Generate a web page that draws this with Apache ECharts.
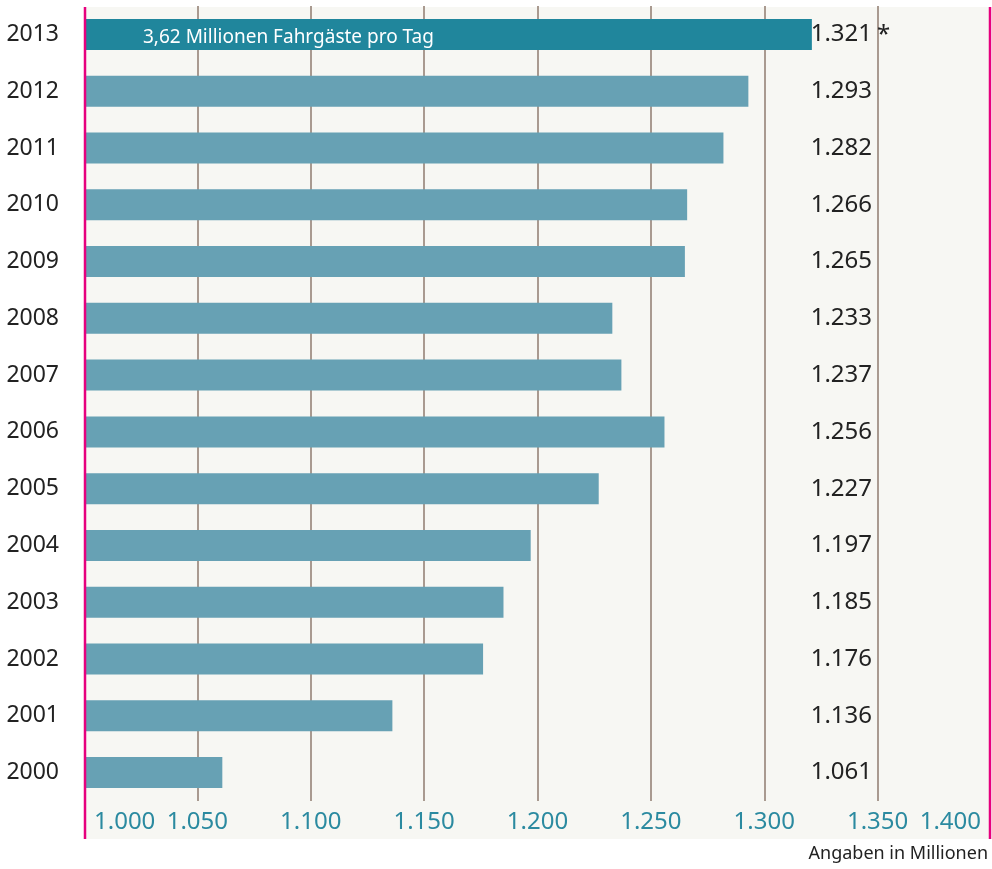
<!DOCTYPE html>
<html>
<head>
<meta charset="utf-8">
<script src="https://cdn.jsdelivr.net/npm/echarts@6/dist/echarts.min.js"></script>
<style>
  html, body { margin: 0; padding: 0; background: #ffffff; }
  #chart { width: 992px; height: 869px; }
</style>
</head>
<body>
<div id="chart"></div>
<script>
// ---- data ----
const years = ['2000', '2001', '2002', '2003', '2004', '2005', '2006', '2007', '2008', '2009', '2010', '2011', '2012', '2013'];
const riders = [1061, 1136, 1176, 1185, 1197, 1227, 1256, 1237, 1233, 1265, 1266, 1282, 1293, 1321];
const xMin = 1000;
const xMax = 1400;
const xStep = 50;
const highlightNote = '3,62 Millionen Fahrgäste pro Tag';
const footnoteMark = '*';
const unitNote = 'Angaben in Millionen';

// ---- helpers ----
const fmt = n => String(n).replace(/\B(?=(\d{3})+(?!\d))/g, '.');
const FONT = '"Noto Sans", "Open Sans", sans-serif';

const chart = echarts.init(document.getElementById('chart'), null, { renderer: 'canvas' });

const lastIdx = riders.length - 1;
const barData = riders.map((v, i) => {
  if (i !== lastIdx) return v;
  return {
    value: v,
    itemStyle: { color: '#20869c' },
    label: {
      show: true,
      position: 'insideLeft',
      offset: [54, 3],
      formatter: highlightNote,
      color: '#ffffff',
      fontSize: 19,
      fontFamily: FONT
    }
  };
});

const option = {
  backgroundColor: '#ffffff',
  animation: false,
  grid: { left: 84, right: 1, top: 6, bottom: 68, containLabel: false },
  xAxis: {
    type: 'value',
    min: xMin,
    max: xMax,
    interval: xStep,
    axisLine: { show: false },
    axisTick: { show: false },
    splitLine: {
      show: true,
      showMinLine: false,
      showMaxLine: false,
      lineStyle: { color: '#a99a90', width: 2 }
    },
    axisLabel: {
      formatter: v => fmt(v),
      color: '#2b8aa0',
      fontSize: 24,
      fontFamily: FONT,
      margin: 9,
      alignMinLabel: 'left',
      alignMaxLabel: 'right',
      padding: [0, 10, 0, 10]
    }
  },
  yAxis: [
    {
      type: 'category',
      data: years,
      axisLine: { show: false },
      axisTick: { show: false },
      splitLine: { show: false },
      axisLabel: {
        color: '#222222',
        fontSize: 23,
        fontFamily: FONT,
        margin: 25,
        padding: [5, 0, 0, 0]
      }
    },
    {
      type: 'category',
      position: 'right',
      data: riders.map(fmt),
      axisLine: { show: false },
      axisTick: { show: false },
      splitLine: { show: false },
      axisLabel: {
        inside: true,
        margin: 119,
        color: '#222222',
        fontSize: 24,
        fontFamily: FONT,
        padding: [5, 0, 0, 0]
      }
    }
  ],
  series: [
    {
      type: 'bar',
      yAxisIndex: 0,
      data: barData,
      barWidth: 31,
      itemStyle: { color: '#67a1b4' },
      label: { show: false }
    }
  ],
  graphic: [
    {
      type: 'rect',
      z: -10,
      silent: true,
      shape: { x: 84, y: 7, width: 907, height: 832 },
      style: { fill: '#f7f7f3' }
    },
    {
      type: 'line',
      z: 100,
      silent: true,
      shape: { x1: 85, y1: 7, x2: 85, y2: 839 },
      style: { stroke: '#e6007e', lineWidth: 2.5 }
    },
    {
      type: 'line',
      z: 100,
      silent: true,
      shape: { x1: 990, y1: 7, x2: 990, y2: 839 },
      style: { stroke: '#e6007e', lineWidth: 2.5 }
    },
    {
      type: 'text',
      z: 100,
      silent: true,
      left: 877,
      top: 23,
      style: { text: footnoteMark, fill: '#222222', font: '24px ' + FONT }
    },
    {
      type: 'text',
      z: 100,
      silent: true,
      right: 4,
      top: 845,
      style: { text: unitNote, fill: '#222222', font: '18px ' + FONT }
    }
  ]
};

chart.setOption(option);
</script>
</body>
</html>
